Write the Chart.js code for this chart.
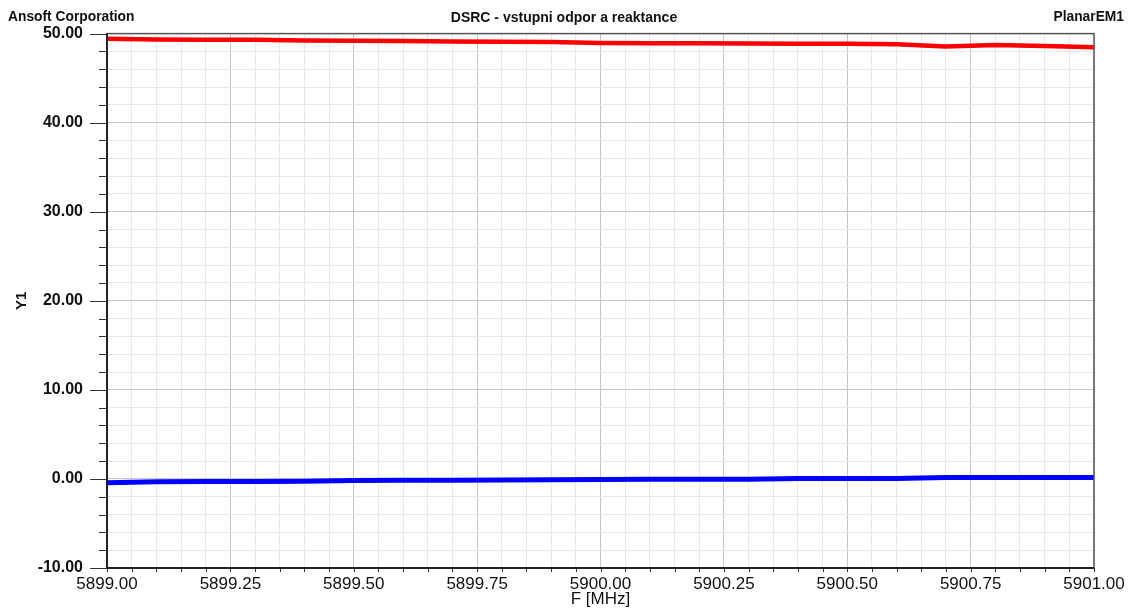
<!DOCTYPE html>
<html>
<head>
<meta charset="utf-8">
<title>DSRC - vstupni odpor a reaktance</title>
<script src="https://cdn.jsdelivr.net/npm/chart.js@4/dist/chart.umd.min.js"></script>
<style>
  body { margin: 0; background: #fff; }
  #wrap { width: 1128px; height: 608px; }
</style>
</head>
<body>
<div id="wrap"><canvas id="chart" width="1128" height="608"></canvas></div>
<script>
// frequency points [MHz]
const freqs = [5899.0, 5899.1, 5899.2, 5899.3, 5899.4, 5899.5, 5899.6, 5899.7, 5899.8, 5899.9,
  5900.0, 5900.1, 5900.2, 5900.3, 5900.4, 5900.5, 5900.6, 5900.7, 5900.8, 5900.9, 5901.0];

// input resistance (red) and reactance (blue)
const resistance = [49.43, 49.33, 49.32, 49.30, 49.22, 49.20, 49.18, 49.10, 49.08, 49.05,
  48.95, 48.93, 48.92, 48.88, 48.86, 48.85, 48.80, 48.55, 48.72, 48.60, 48.47];
const reactance = [-0.43, -0.33, -0.30, -0.30, -0.27, -0.17, -0.15, -0.14, -0.13, -0.10,
  -0.05, -0.04, -0.03, -0.03, 0.05, 0.05, 0.06, 0.15, 0.15, 0.15, 0.15];

const xRange = [5899.0, 5901.0];
const yRange = [-10, 50];

const FONT = "Arial, 'Liberation Sans', sans-serif";

function isMajorX(v) {
  return Math.abs(v * 4 - Math.round(v * 4)) < 1e-6;
}
function isMajorY(v) {
  return Math.abs(v / 10 - Math.round(v / 10)) < 1e-6;
}

// header strings, frame and tick marks
const decorPlugin = {
  id: 'decor',
  afterDraw(chart) {
    const ctx = chart.ctx;
    const area = chart.chartArea;
    const xs = chart.scales.x;
    const ys = chart.scales.y;
    ctx.save();

    ctx.fillStyle = '#111';
    ctx.font = 'bold 13.8px ' + FONT;
    ctx.textBaseline = 'middle';
    ctx.textAlign = 'left';
    ctx.fillText('Ansoft Corporation', 8, 17);
    ctx.textAlign = 'right';
    ctx.fillText('PlanarEM1', 1124, 17);

    ctx.strokeStyle = '#333';
    ctx.lineWidth = 1;
    ys.ticks.forEach(t => {
      const y = Math.round(ys.getPixelForValue(t.value)) + 0.5;
      const len = isMajorY(t.value) ? 17 : 8;
      ctx.beginPath();
      ctx.moveTo(area.left - len, y);
      ctx.lineTo(area.left, y);
      ctx.stroke();
    });
    xs.ticks.forEach(t => {
      const x = Math.round(xs.getPixelForValue(t.value)) + 0.5;
      ctx.beginPath();
      ctx.moveTo(x, area.bottom);
      ctx.lineTo(x, area.bottom + 4);
      ctx.stroke();
    });

    ctx.strokeStyle = '#555';
    ctx.lineWidth = 1.5;
    ctx.strokeRect(area.left, area.top, area.right - area.left, area.bottom - area.top);
    ctx.strokeStyle = '#222';
    ctx.lineWidth = 2;
    ctx.beginPath();
    ctx.moveTo(area.left, area.top);
    ctx.lineTo(area.left, area.bottom);
    ctx.lineTo(area.right, area.bottom);
    ctx.stroke();
    ctx.restore();
  }
};

const ctx = document.getElementById('chart').getContext('2d');
new Chart(ctx, {
  type: 'line',
  data: {
    datasets: [{
      label: 'Re',
      data: freqs.map((f, i) => ({ x: f, y: resistance[i] })),
      borderColor: '#ff0000',
      borderWidth: 4.5,
      pointRadius: 0,
      tension: 0
    }, {
      label: 'Im',
      data: freqs.map((f, i) => ({ x: f, y: reactance[i] })),
      borderColor: '#0000ff',
      borderWidth: 5,
      pointRadius: 0,
      tension: 0
    }]
  },
  options: {
    responsive: false,
    animation: false,
    layout: { padding: 0 },
    plugins: {
      legend: { display: false },
      tooltip: { enabled: false },
      title: {
        display: true,
        text: 'DSRC - vstupni odpor a reaktance',
        color: '#111',
        font: { family: FONT, size: 14, weight: 'bold', lineHeight: 1.2 },
        padding: { top: 9, bottom: 7.2 }
      }
    },
    scales: {
      x: {
        type: 'linear',
        min: xRange[0],
        max: xRange[1],
        afterFit: scale => {
          scale.height = 40;
          // fixed side margins so the last label hangs over like the original
          scale.paddingLeft = 0;
          scale.paddingRight = 34;
        },
        border: { display: false },
        grid: {
          drawTicks: false,
          color: c => isMajorX(c.tick.value) ? '#c6c6c6' : '#e8e8e8',
          lineWidth: 1
        },
        ticks: {
          stepSize: 0.05,
          autoSkip: false,
          maxRotation: 0,
          minRotation: 0,
          padding: 6,
          color: '#111',
          font: { family: FONT, size: 17 },
          callback: v => isMajorX(v) ? v.toFixed(2) : ''
        },
        title: {
          display: true,
          text: 'F [MHz]',
          color: '#111',
          font: { family: FONT, size: 17, lineHeight: 1 },
          padding: { top: 0, bottom: 0 }
        }
      },
      y: {
        min: yRange[0],
        max: yRange[1],
        afterFit: scale => { scale.width = 107; },
        border: { display: false },
        grid: {
          drawTicks: false,
          color: c => isMajorY(c.tick.value) ? '#c6c6c6' : '#e8e8e8',
          lineWidth: 1
        },
        ticks: {
          stepSize: 2,
          autoSkip: false,
          padding: 24,
          color: '#111',
          font: { family: FONT, size: 16, weight: 'bold' },
          callback: v => isMajorY(v) ? v.toFixed(2) : ''
        },
        title: {
          display: true,
          text: 'Y1',
          color: '#111',
          font: { family: FONT, size: 15, weight: 'bold', lineHeight: 1 },
          padding: { top: 14, bottom: 0 }
        }
      }
    }
  },
  plugins: [decorPlugin]
});
</script>
</body>
</html>
